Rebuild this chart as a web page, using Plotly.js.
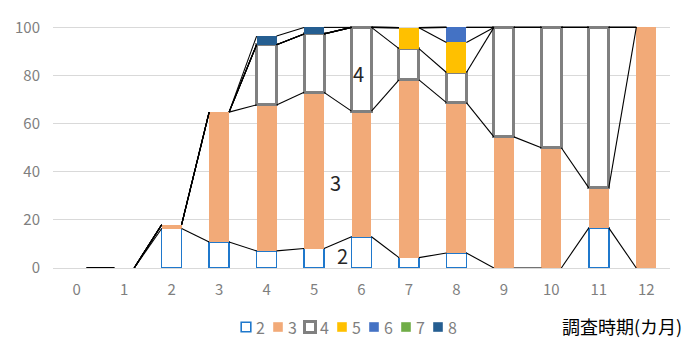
<!DOCTYPE html>
<html>
<head>
<meta charset="utf-8">
<script src="https://cdn.plot.ly/plotly-3.0.1.min.js"></script>
<style>
  html, body { margin: 0; padding: 0; background: #fff; }
  #chart { width: 686px; height: 348px; }
</style>
</head>
<body>
<div id="chart"></div>
<script>
// Survey months (x categories)
const months = [0, 1, 2, 3, 4, 5, 6, 7, 8, 9, 10, 11, 12];

// Share (%) of each score group at each survey month
const s2 = [0, 0, 16.4, 10.8, 7.1, 8.1, 13.0, 4.3, 6.25, 0, 0, 16.7, 0];
const s3 = [0, 0, 1.6, 54.0, 60.7, 64.9, 52.2, 73.9, 62.5, 54.5, 50.0, 16.6, 100];
const s4 = [0, 0, 0, 0, 25.0, 24.3, 34.8, 13.0, 12.5, 45.5, 50.0, 66.7, 0];
const s5 = [0, 0, 0, 0, 0, 0, 0, 8.7, 12.5, 0, 0, 0, 0];
const s6 = [0, 0, 0, 0, 0, 0, 0, 0, 6.25, 0, 0, 0, 0];
const s7 = [0, 0, 0, 0, 0, 0, 0, 0, 0, 0, 0, 0, 0];
const s8 = [0, 0, 0, 0, 3.6, 2.7, 0, 0, 0, 0, 0, 0, 0];

const seriesNames = ['2', '3', '4', '5', '6', '7', '8'];
const seriesValues = [s2, s3, s4, s5, s6, s7, s8];

const xTickLabels = ['0', '1', '2', '3', '4', '5', '6', '7', '8', '9', '10', '11', '12'];
const yTickVals = [0, 20, 40, 60, 80, 100];

// ---- styling ----
const BAR_W = 0.42;
const styles = [
  { fill: '#ffffff', line: '#1F78CC', lw: 1.6 },
  { fill: '#F2AA78', line: '#F2AA78', lw: 0 },
  { fill: '#ffffff', line: '#808080', lw: 3 },
  { fill: '#FFC000', line: '#FFC000', lw: 0 },
  { fill: '#4472C4', line: '#4472C4', lw: 0 },
  { fill: '#70AD47', line: '#70AD47', lw: 0 },
  { fill: '#255E91', line: '#255E91', lw: 0 }
];
const FONT = '"Noto Sans CJK JP", "Noto Sans", sans-serif';
const GRAY = '#7F7F7F';

const traces = [];

// stacked bars (empty segments are left out so their outlines are not drawn)
seriesValues.forEach((vals, k) => {
  traces.push({
    type: 'bar',
    name: seriesNames[k],
    x: months,
    y: vals.map(v => (v === 0 ? null : v)),
    width: BAR_W,
    marker: { color: styles[k].fill, line: { color: styles[k].line, width: styles[k].lw } },
    showlegend: false,
    hoverinfo: 'name+y'
  });
});

// series lines joining the top of each stacked segment between neighbouring bars
const tops = [];
let running = months.map(() => 0);
seriesValues.forEach(vals => {
  running = running.map((r, i) => r + vals[i]);
  tops.push(running.slice());
});
tops.forEach(top => {
  const lx = [], ly = [];
  for (let i = 0; i < months.length - 1; i++) {
    lx.push(months[i] + BAR_W / 2, months[i + 1] - BAR_W / 2, null);
    ly.push(top[i], top[i + 1], null);
  }
  traces.push({
    type: 'scatter', mode: 'lines', x: lx, y: ly,
    line: { color: '#000000', width: 1.1 },
    showlegend: false, hoverinfo: 'skip', connectgaps: false
  });
});

// ---- geometry of the plot area (pixels) ----
const W = 686, H = 348;
const M = { l: 53, r: 16, t: 25, b: 80 };
const plotW = W - M.l - M.r, plotH = H - M.t - M.b;
const px2x = px => (px - M.l) / plotW;
const px2y = py => (H - M.b - py) / plotH;

// hand-made legend row
const shapes = [];
const annotations = [];
const legendY = 327;
seriesNames.forEach((nm, k) => {
  const cx = 246 + 32 * k;
  const st = styles[k];
  const half = k === 2 ? 5.5 : 4.8;
  shapes.push({
    type: 'rect', xref: 'paper', yref: 'paper',
    x0: px2x(cx - half), x1: px2x(cx + half),
    y0: px2y(legendY + half), y1: px2y(legendY - half),
    fillcolor: st.fill,
    line: { color: st.line, width: st.lw > 0 ? st.lw : 0 }
  });
  annotations.push({
    xref: 'paper', yref: 'paper', x: px2x(cx + 7.5), y: px2y(legendY),
    xanchor: 'left', yanchor: 'middle', showarrow: false,
    text: nm, font: { family: FONT, size: 16, color: GRAY }
  });
});

// axis title at the lower right
annotations.push({
  xref: 'paper', yref: 'paper', x: px2x(684), y: px2y(326),
  xanchor: 'right', yanchor: 'middle', showarrow: false,
  text: '調査時期(カ月)', font: { family: FONT, size: 18, color: '#000000' }
});

// series-line labels inside the plot
[['4', 5.93, 81], ['3', 5.46, 35.4], ['2', 5.61, 5.1]].forEach(([t, x, y]) => {
  annotations.push({
    xref: 'x', yref: 'y', x: x, y: y, showarrow: false,
    text: t, font: { family: FONT, size: 20, color: '#262626' }
  });
});

const layout = {
  width: W, height: H,
  margin: M,
  paper_bgcolor: '#ffffff', plot_bgcolor: '#ffffff',
  barmode: 'stack',
  showlegend: false,
  font: { family: FONT, color: GRAY },
  xaxis: {
    type: 'linear',
    range: [-0.5, 12.5],
    tickvals: months, ticktext: xTickLabels,
    showgrid: false, zeroline: false, showline: false,
    ticks: '', ticklabelstandoff: 11,
    tickfont: { family: FONT, size: 15, color: GRAY }
  },
  yaxis: {
    range: [0, 101],
    tickvals: yTickVals,
    showgrid: true, gridcolor: '#D9D9D9', gridwidth: 1,
    zeroline: true, zerolinecolor: '#D9D9D9', zerolinewidth: 1,
    showline: false, ticks: '', ticklabelstandoff: 12,
    tickfont: { family: FONT, size: 15, color: GRAY }
  },
  shapes: shapes,
  annotations: annotations
};

Plotly.newPlot('chart', traces, layout, { displayModeBar: false, staticPlot: true });
</script>
</body>
</html>
